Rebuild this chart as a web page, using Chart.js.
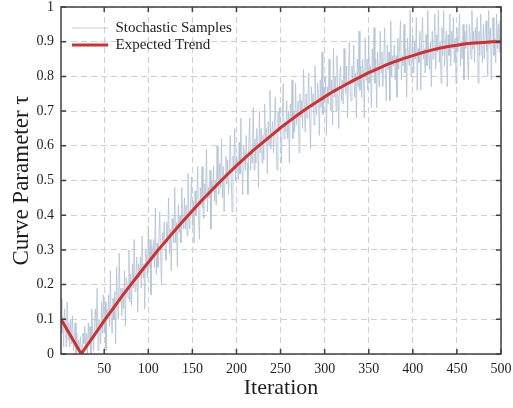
<!DOCTYPE html>
<html lang="en">
<head>
  <meta charset="UTF-8" />
  <title>Curve Parameter</title>
  <script src="https://cdn.jsdelivr.net/npm/chart.js@4"></script>
  <style>
    html, body { margin: 0; padding: 0; background: #fff; }
    canvas { display: block; }
  </style>
</head>
<body>
  <canvas id="curveChart" width="513" height="408"></canvas>

  <script>
    // tick positions
    const xTicks = [50, 100, 150, 200, 250, 300, 350, 400, 450, 500];
    const yTicks = [0, 0.1, 0.2, 0.3, 0.4, 0.5, 0.6, 0.7, 0.8, 0.9, 1];

    // expected trend
    const trendIter = [1, 24, 30, 40, 50, 60, 70, 80, 90, 100, 110, 120, 130, 140, 150, 160, 170, 180, 190, 200,
      210, 220, 230, 240, 250, 260, 270, 280, 290, 300, 310, 320, 330, 340, 350, 360, 370, 380, 390, 400,
      410, 420, 430, 440, 450, 460, 470, 480, 490, 500];
    const trendValue = [0.1, 0, 0.023, 0.059, 0.096, 0.131, 0.166, 0.199, 0.232, 0.264, 0.296, 0.326, 0.356, 0.385, 0.413, 0.441, 0.467, 0.493, 0.518, 0.543,
      0.566, 0.589, 0.610, 0.631, 0.652, 0.671, 0.690, 0.708, 0.725, 0.741, 0.757, 0.771, 0.785, 0.798, 0.811, 0.822, 0.833, 0.843, 0.852, 0.860,
      0.868, 0.875, 0.881, 0.886, 0.890, 0.894, 0.896, 0.898, 0.900, 0.900];

    // stochastic samples, one per iteration 1..500
    const sampleValues = [
      0.16, 0.06, 0.11, 0.02, 0.13, 0.09, 0.02, 0.15, 0.04, 0.09,
      0.02, 0.10, 0.03, 0.11, 0.01, 0.04, 0.09, 0.00, 0.06, 0.01,
      0.04, 0.01, 0.05, 0.01, 0.00, 0.06, 0.03, 0.08, 0.01, 0.06,
      0.00, 0.09, 0.03, 0.08, 0.00, 0.13, 0.05, 0.01, 0.09, 0.13,
      0.06, 0.19, 0.01, 0.10, 0.09, 0.03, 0.15, 0.06, 0.17, 0.06,
      0.15, 0.01, 0.13, 0.10, 0.17, 0.08, 0.24, 0.10, 0.06, 0.16,
      0.10, 0.18, 0.03, 0.25, 0.15, 0.10, 0.29, 0.15, 0.19, 0.11,
      0.19, 0.13, 0.24, 0.08, 0.22, 0.20, 0.16, 0.30, 0.15, 0.23,
      0.14, 0.26, 0.19, 0.33, 0.18, 0.23, 0.28, 0.12, 0.26, 0.22,
      0.28, 0.19, 0.34, 0.22, 0.26, 0.13, 0.30, 0.28, 0.22, 0.37,
      0.25, 0.33, 0.17, 0.31, 0.27, 0.33, 0.25, 0.42, 0.23, 0.32,
      0.25, 0.33, 0.41, 0.28, 0.20, 0.35, 0.32, 0.38, 0.30, 0.27,
      0.38, 0.32, 0.45, 0.29, 0.36, 0.24, 0.39, 0.36, 0.32, 0.48,
      0.32, 0.38, 0.25, 0.43, 0.35, 0.40, 0.32, 0.48, 0.38, 0.36,
      0.45, 0.36, 0.43, 0.34, 0.52, 0.39, 0.36, 0.44, 0.51, 0.37,
      0.44, 0.32, 0.47, 0.40, 0.44, 0.54, 0.39, 0.33, 0.48, 0.43,
      0.54, 0.42, 0.39, 0.49, 0.46, 0.59, 0.41, 0.48, 0.45, 0.53,
      0.36, 0.50, 0.47, 0.54, 0.44, 0.50, 0.43, 0.60, 0.50, 0.46,
      0.55, 0.48, 0.62, 0.45, 0.54, 0.41, 0.52, 0.57, 0.49, 0.56,
      0.46, 0.54, 0.63, 0.51, 0.41, 0.57, 0.54, 0.65, 0.50, 0.57,
      0.56, 0.50, 0.61, 0.52, 0.68, 0.55, 0.46, 0.60, 0.58, 0.53,
      0.63, 0.55, 0.46, 0.61, 0.68, 0.53, 0.59, 0.55, 0.71, 0.53,
      0.62, 0.55, 0.65, 0.60, 0.48, 0.70, 0.58, 0.65, 0.55, 0.63,
      0.56, 0.72, 0.61, 0.65, 0.52, 0.67, 0.60, 0.76, 0.59, 0.64,
      0.67, 0.58, 0.66, 0.74, 0.61, 0.53, 0.70, 0.64, 0.71, 0.63,
      0.55, 0.69, 0.78, 0.62, 0.67, 0.64, 0.73, 0.62, 0.70, 0.55,
      0.72, 0.67, 0.79, 0.62, 0.70, 0.64, 0.78, 0.66, 0.69, 0.73,
      0.58, 0.75, 0.68, 0.73, 0.65, 0.82, 0.71, 0.64, 0.75, 0.68,
      0.73, 0.81, 0.67, 0.59, 0.77, 0.71, 0.75, 0.66, 0.83, 0.71,
      0.69, 0.78, 0.74, 0.63, 0.79, 0.71, 0.87, 0.69, 0.77, 0.73,
      0.80, 0.63, 0.77, 0.72, 0.85, 0.76, 0.70, 0.79, 0.66, 0.88,
      0.74, 0.80, 0.70, 0.86, 0.75, 0.65, 0.80, 0.83, 0.73, 0.79,
      0.72, 0.88, 0.78, 0.75, 0.83, 0.68, 0.80, 0.90, 0.76, 0.73,
      0.83, 0.78, 0.89, 0.74, 0.81, 0.68, 0.85, 0.77, 0.93, 0.76,
      0.83, 0.74, 0.85, 0.81, 0.68, 0.91, 0.79, 0.85, 0.76, 0.92,
      0.78, 0.83, 0.71, 0.88, 0.81, 0.94, 0.78, 0.85, 0.71, 0.87,
      0.82, 0.77, 0.93, 0.81, 0.87, 0.77, 0.84, 0.94, 0.80, 0.73,
      0.89, 0.82, 0.87, 0.73, 0.96, 0.80, 0.86, 0.83, 0.89, 0.79,
      0.86, 0.74, 0.91, 0.82, 0.89, 0.96, 0.79, 0.86, 0.83, 0.95,
      0.81, 0.88, 0.74, 0.91, 0.86, 0.83, 0.99, 0.80, 0.88, 0.92,
      0.81, 0.90, 0.85, 0.97, 0.76, 0.88, 0.84, 0.93, 0.76, 0.90,
      0.97, 0.85, 0.88, 0.81, 0.92, 0.83, 0.99, 0.86, 0.82, 0.90,
      0.77, 0.93, 0.85, 0.90, 0.98, 0.82, 0.92, 0.87, 0.99, 0.84,
      0.90, 0.78, 0.94, 0.86, 0.99, 0.83, 0.89, 0.93, 0.77, 0.92,
      0.86, 0.98, 0.83, 0.93, 0.88, 0.97, 0.84, 0.91, 0.78, 0.94,
      0.87, 0.92, 0.98, 0.83, 0.90, 0.85, 0.95, 0.79, 0.93, 0.88,
      0.95, 0.86, 0.79, 0.95, 0.92, 0.85, 0.99, 0.88, 0.93, 0.84,
      0.94, 0.89, 0.97, 0.78, 0.93, 0.86, 0.98, 0.88, 0.84, 0.95,
      0.85, 0.92, 0.96, 0.87, 0.80, 0.99, 0.89, 0.94, 0.79, 0.93,
      0.97, 0.86, 0.91, 0.84, 0.98, 0.88, 0.95, 0.87, 0.96, 0.83
    ];

    const serif = "'Liberation Serif', 'Times New Roman', serif";
    const ink = '#1e1e1e';
    const frameColor = '#404040';

    // box frame + inward tick marks on all four sides
    const frameTicks = {
      id: 'frameTicks',
      afterLayout(chart) {
        // nudge the in-plot legend to its spot in the top-left corner
        chart.legend.left = chart.chartArea.left + 9;
        chart.legend.top = chart.chartArea.top + 11.5;
      },
      afterDraw(chart) {
        const { ctx, chartArea: a, scales: { x, y } } = chart;
        ctx.save();
        ctx.strokeStyle = frameColor;
        ctx.lineWidth = 1.5;
        ctx.beginPath();
        xTicks.forEach(v => {
          const px = x.getPixelForValue(v);
          ctx.moveTo(px, a.bottom); ctx.lineTo(px, a.bottom - 5);
          ctx.moveTo(px, a.top); ctx.lineTo(px, a.top + 5);
        });
        yTicks.forEach(v => {
          const py = y.getPixelForValue(v);
          ctx.moveTo(a.left, py); ctx.lineTo(a.left + 5, py);
          ctx.moveTo(a.right, py); ctx.lineTo(a.right - 5, py);
        });
        ctx.stroke();
        ctx.strokeRect(a.left, a.top, a.right - a.left, a.bottom - a.top);
        ctx.restore();
      }
    };

    new Chart(document.getElementById('curveChart'), {
      type: 'line',
      data: {
        datasets: [
          {
            label: 'Stochastic Samples',
            data: sampleValues.map((v, i) => ({ x: i + 1, y: v })),
            borderColor: 'rgba(176, 194, 214, 0.8)',
            borderWidth: 1,
            pointRadius: 0,
            tension: 0,
            order: 1
          },
          {
            label: 'Expected Trend',
            data: trendIter.map((it, i) => ({ x: it, y: trendValue[i] })),
            borderColor: '#d22f2f',
            borderWidth: 3,
            pointRadius: 0,
            tension: 0,
            borderJoinStyle: 'round',
            order: 0
          }
        ]
      },
      options: {
        responsive: false,
        animation: false,
        devicePixelRatio: 1,
        layout: { padding: { top: 7, right: 12, left: 0, bottom: 0 } },
        font: { family: serif },
        plugins: {
          tooltip: { enabled: false },
          legend: {
            position: 'chartArea',
            align: 'start',
            labels: {
              usePointStyle: true,
              pointStyle: 'line',
              pointStyleWidth: 36,
              padding: 2,
              color: ink,
              font: { family: serif, size: 15 },
              sort: (a, b) => a.datasetIndex - b.datasetIndex
            }
          }
        },
        scales: {
          x: {
            type: 'linear',
            min: 1,
            max: 500,
            afterBuildTicks: s => { s.ticks = xTicks.map(v => ({ value: v })); },
            afterFit: s => { s.height = 54; s.paddingLeft = 0; s.paddingRight = 0; },
            grid: { color: '#cfcfcf', lineWidth: 1, drawTicks: false },
            border: { display: false, dash: [6, 4] },
            ticks: { color: ink, padding: 7, maxRotation: 0, font: { family: serif, size: 14 }, callback: v => String(v) },
            title: { display: true, text: 'Iteration', color: ink, font: { family: serif, size: 22 }, padding: { top: 0, bottom: 7 } }
          },
          y: {
            min: 0,
            max: 1,
            afterBuildTicks: s => { s.ticks = yTicks.map(v => ({ value: v })); },
            afterFit: s => { s.width = 61; s.paddingTop = 0; s.paddingBottom = 0; },
            grid: { color: '#cfcfcf', lineWidth: 1, drawTicks: false },
            border: { display: false, dash: [6, 4] },
            ticks: { color: ink, padding: 7, font: { family: serif, size: 14 }, callback: v => String(v) },
            title: { display: true, text: 'Curve Parameter τ', color: ink, font: { family: serif, size: 23 }, padding: { top: 8, bottom: 0 } }
          }
        }
      },
      plugins: [frameTicks]
    });
  </script>
</body>
</html>
